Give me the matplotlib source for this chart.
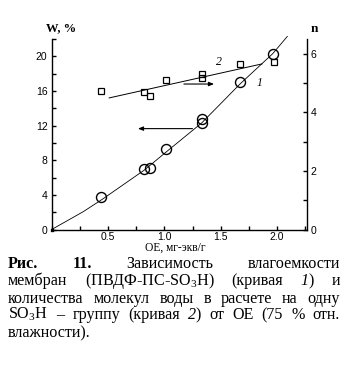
import matplotlib
matplotlib.use("Agg")
import matplotlib.pyplot as plt
import numpy as np
from matplotlib.ticker import MultipleLocator, FixedLocator

plt.rcParams['mathtext.fontset'] = 'custom'
plt.rcParams['mathtext.rm'] = 'Liberation Serif'
plt.rcParams['mathtext.it'] = 'Liberation Serif:italic'
plt.rcParams['mathtext.default'] = 'regular'

# ---- data ----
oe_w = [0.44, 0.82, 0.876, 1.015, 1.33, 1.337, 1.666, 1.963]
w_pct = [3.7, 6.97, 7.08, 9.3, 12.3, 12.75, 17.0, 20.3]
# curve 1 (drawn line)
curve1_x = [0.0, 0.28, 0.45, 0.82, 1.02, 1.33, 1.67, 1.96, 2.09]
curve1_w = [0.0, 2.06, 3.5, 6.85, 9.0, 12.3, 16.8, 20.3, 22.3]

oe_n = [0.44, 0.82, 0.876, 1.018, 1.33, 1.337, 1.67, 1.97]
n_val = [4.73, 4.70, 4.54, 5.10, 5.17, 5.31, 5.63, 5.73]
# curve 2 (drawn line)
curve2_x = [0.51, 1.865]
curve2_n = [4.49, 5.65]

xtick_vals = [0.5, 1.0, 1.5, 2.0]
xtick_labels = ['0.5', '1.0', '1.5', '2.0']
wtick_vals = [0, 4, 8, 12, 16, 20]
ntick_vals = [0, 2, 4, 6]

W, H = 349, 366
fig = plt.figure(figsize=(W / 100, H / 100), dpi=100)
ax = fig.add_axes([51.7 / W, 1 - 229.5 / H, (306.5 - 51.7) / W, (229.5 - 39) / H])
ax2 = ax.twinx()

ax.set_xlim(0, 2.26)
ax.set_ylim(0, 22)
ax2.set_ylim(0, 6.5)

for a in (ax, ax2):
    a.spines['top'].set_visible(False)
    for s in a.spines.values():
        s.set_linewidth(1.0)
ax2.spines['left'].set_visible(False)
ax2.spines['bottom'].set_visible(False)
ax.spines['right'].set_visible(False)

tickfont = dict(family='Liberation Sans', size=7.5)
ax.xaxis.set_major_locator(FixedLocator(xtick_vals))
ax.set_xticklabels(xtick_labels, **tickfont)
ax.xaxis.set_minor_locator(MultipleLocator(0.25))
ax.yaxis.set_major_locator(FixedLocator(wtick_vals))
ax.set_yticklabels([str(v) for v in wtick_vals], **tickfont)
ax.yaxis.set_minor_locator(MultipleLocator(2))
ax2.yaxis.set_major_locator(FixedLocator(ntick_vals))
ax2.set_yticklabels([str(v) for v in ntick_vals], **tickfont)
ax2.yaxis.set_minor_locator(MultipleLocator(1))

ax.tick_params(axis='both', which='both', direction='in', length=3, width=1, pad=3, colors='black')
ax.tick_params(axis='x', which='both', top=False, pad=2)
ax.tick_params(axis='y', which='both', right=False)
ax2.tick_params(axis='y', which='both', direction='in', length=3, width=1, pad=3)

# curve 1
ax.plot(curve1_x, curve1_w, color='black', lw=0.6, clip_on=False)
ax.plot(curve1_x[0], curve1_w[0], marker='s', color='black', ms=2, clip_on=False)
ax.plot(oe_w, w_pct, linestyle='none', marker='o', ms=7.2, mfc='none', mec='black', mew=1.0, clip_on=False)

# curve 2
ax2.plot(curve2_x, curve2_n, color='black', lw=0.7)
ax2.plot(oe_n, n_val, linestyle='none', marker='s', ms=4.3, mfc='none', mec='black', mew=0.9)

# arrows
ax.annotate('', xy=(1.465, 16.8), xytext=(1.148, 16.8),
            arrowprops=dict(arrowstyle='-|>,head_length=0.3,head_width=0.12', color='black', lw=0.8))
ax.annotate('', xy=(0.74, 11.65), xytext=(1.273, 11.65),
            arrowprops=dict(arrowstyle='-|>,head_length=0.3,head_width=0.12', color='black', lw=0.8))

ax.text(1.48, 19.4, '2', fontsize=8.5, family='Liberation Serif', style='italic', ha='center', va='center')
ax.text(1.84, 16.95, '1', fontsize=8.5, family='Liberation Serif', style='italic', ha='center', va='center')

# axis titles
fig.text(61 / W, 1 - 28.5 / H, 'W, %', family='Liberation Serif', weight='bold', fontsize=9, ha='center', va='center')
fig.text(314 / W, 1 - 28.5 / H, 'n', family='Liberation Serif', weight='bold', fontsize=9.5, ha='center', va='center')
fig.text(175 / W, 1 - 251 / H, 'OE, мг-экв/г', family='Liberation Serif', fontsize=8.3, ha='center', va='baseline')

# ---- caption (justified) ----
cap_lines = [
    [[('Рис.', 'bold', 'normal')], [('11.', 'bold', 'normal')], [('Зависимость', 'normal', 'normal')], [('влагоемкости', 'normal', 'normal')]],
    [[('мембран', 'normal', 'normal')], [('(ПВДФ-ПС-SO$_3$H)', 'normal', 'normal')], [('(кривая', 'normal', 'normal')], [('1', 'normal', 'italic'), (')', 'normal', 'normal')], [('и', 'normal', 'normal')]],
    [[(w, 'normal', 'normal')] for w in 'количества молекул воды в расчете на одну'.split()],
    [[('SO$_3$H', 'normal', 'normal')], [('–', 'normal', 'normal')], [('группу', 'normal', 'normal')], [('(кривая', 'normal', 'normal')], [('2', 'normal', 'italic'), (')', 'normal', 'normal')], [('от', 'normal', 'normal')], [('ОЕ', 'normal', 'normal')], [('(75', 'normal', 'normal')], [('%', 'normal', 'normal')], [('отн.', 'normal', 'normal')]],
    [[('влажности).', 'normal', 'normal')]],
]
baselines = [268, 285, 303, 319, 337]
justify = [True, True, True, True, False]
cap_left, cap_right = 8, 340
cap_size = 11.6

fig.canvas.draw()
renderer = fig.canvas.get_renderer()

def run_width(txt, weight, style, size):
    t = fig.text(0, 0, txt, family='Liberation Serif', fontsize=size, weight=weight, style=style)
    bb = t.get_window_extent(renderer)
    t.remove()
    return bb.width

space_w = run_width('a b', 'normal', 'normal', cap_size) - run_width('ab', 'normal', 'normal', cap_size)

for words, yb, just in zip(cap_lines, baselines, justify):
    widths = [[run_width(*r, cap_size) for r in word] for word in words]
    totals = [sum(w) for w in widths]
    if just and len(words) > 1:
        gap = (cap_right - cap_left - sum(totals)) / (len(words) - 1)
    else:
        gap = space_w
    x = cap_left
    for word, ws in zip(words, widths):
        xx = x
        for (txt, weight, style), rw in zip(word, ws):
            fig.text(xx / W, 1 - yb / H, txt, family='Liberation Serif', fontsize=cap_size,
                     weight=weight, style=style, ha='left', va='baseline')
            xx += rw
        x = xx + gap

fig.savefig('out.png', dpi=100)
